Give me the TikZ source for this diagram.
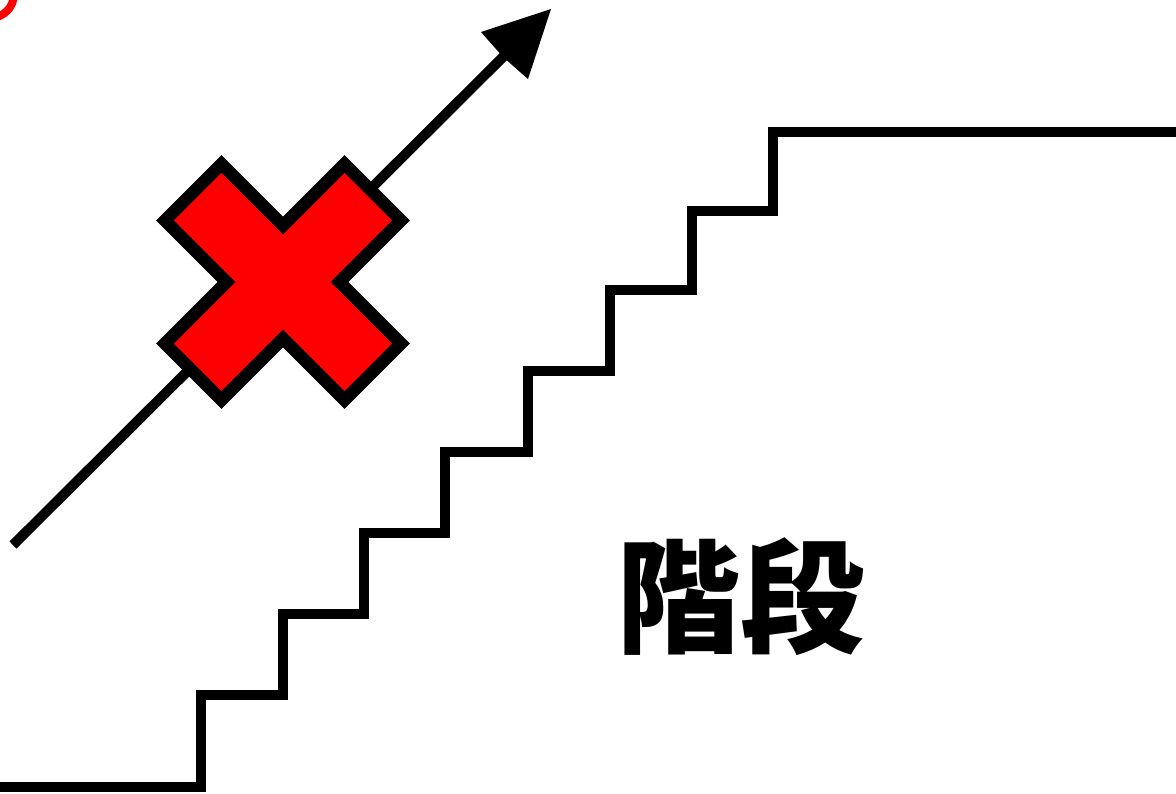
\documentclass[tikz,border=0pt]{standalone}
\usepackage{fontspec}
\newfontfamily\cjk{Noto Sans CJK JP}[BoldFont={* Black}]
\begin{document}
\begin{tikzpicture}[x=1pt,y=-1pt,
  stair/.style={line width=10pt,black,line join=miter},
  shaft/.style={line width=10pt,black},
  cross/.style={fill=red,draw=black,line width=12.5pt,line join=miter},
  ring/.style={draw=red,line width=8pt},
  label/.style={font=\cjk\bfseries\fontsize{124}{124}\selectfont,inner sep=0pt}]
\useasboundingbox (0,0) rectangle (1176,793);
% red ring fragment at the corner
\begin{scope}
\clip (0,0) rectangle (1176,793);
\draw[ring] (-10,-6) circle (24);
\end{scope}
% stairs
\coordinate (s0) at (0,787);
\coordinate (top) at (1180,132);
\draw[stair] (s0) -- (201,787) -- (201,695) -- (283,695) -- (283,614) -- (364,614) -- (364,533)
  -- (445,533) -- (445,452) -- (528,452) -- (528,371) -- (610,371) -- (610,290)
  -- (692,290) -- (692,211) -- (773,211) -- (773,132) -- (top);
% arrow
\coordinate (a0) at (13,545);
\coordinate (a1) at (506,54);
\coordinate (tip) at (551,9);
\draw[shaft] (a0) -- (a1);
\fill[black] (tip) -- (481,32) -- (503,57) -- (528,79) -- cycle;
% red cross
\begin{scope}[shift={(283,282)},rotate=45]
\def\a{40}\def\L{127}
\draw[cross] (\a,\a) -- (\a,\L) -- (-\a,\L) -- (-\a,\a) -- (-\L,\a) -- (-\L,-\a)
  -- (-\a,-\a) -- (-\a,-\L) -- (\a,-\L) -- (\a,-\a) -- (\L,-\a) -- (\L,\a) -- cycle;
\end{scope}
% label
\node[label] (t) at (740,597) {階段};
\end{tikzpicture}
\end{document}
